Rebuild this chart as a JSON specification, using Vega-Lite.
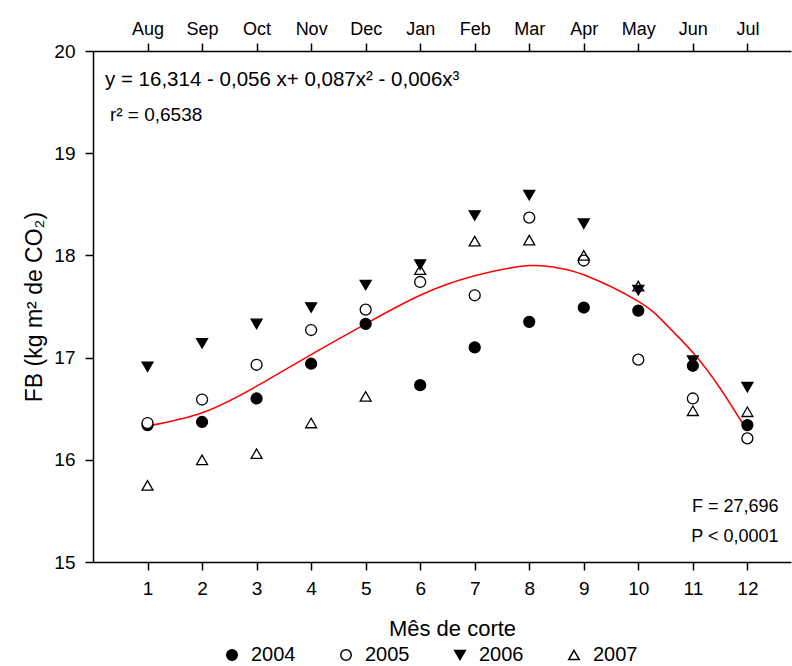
{
  "$schema": "https://vega.github.io/schema/vega-lite/v6.json",
  "width": 698,
  "height": 511,
  "autosize": {"type": "none"},
  "padding": {"left": 93, "top": 51, "right": 1, "bottom": 104},
  "config": {
    "view": {"stroke": null},
    "font": "Liberation Sans",
    "axis": {
      "grid": false,
      "domainColor": "black",
      "tickColor": "black",
      "labelColor": "black",
      "titleColor": "black",
      "domainWidth": 1.5,
      "tickWidth": 1.5,
      "tickSize": 8,
      "labelFont": "Liberation Sans",
      "titleFont": "Liberation Sans",
      "titleFontWeight": "normal"
    },
    "axisY": {"tickCount": 5, "labelFontSize": 19, "labelPadding": 10, "titleFontSize": 23, "titlePadding": 7},
    "legend": {"labelFont": "Liberation Sans"}
  },
  "datasets": {
    "pts": [
      {"mes": 1, "ano": "2004", "fb": 16.34}, {"mes": 2, "ano": "2004", "fb": 16.37}, {"mes": 3, "ano": "2004", "fb": 16.60}, {"mes": 4, "ano": "2004", "fb": 16.94}, {"mes": 5, "ano": "2004", "fb": 17.33}, {"mes": 6, "ano": "2004", "fb": 16.73}, {"mes": 7, "ano": "2004", "fb": 17.10}, {"mes": 8, "ano": "2004", "fb": 17.35}, {"mes": 9, "ano": "2004", "fb": 17.49}, {"mes": 10, "ano": "2004", "fb": 17.46}, {"mes": 11, "ano": "2004", "fb": 16.92}, {"mes": 12, "ano": "2004", "fb": 16.34},
      {"mes": 1, "ano": "2005", "fb": 16.36}, {"mes": 2, "ano": "2005", "fb": 16.59}, {"mes": 3, "ano": "2005", "fb": 16.93}, {"mes": 4, "ano": "2005", "fb": 17.27}, {"mes": 5, "ano": "2005", "fb": 17.47}, {"mes": 6, "ano": "2005", "fb": 17.74}, {"mes": 7, "ano": "2005", "fb": 17.61}, {"mes": 8, "ano": "2005", "fb": 18.37}, {"mes": 9, "ano": "2005", "fb": 17.95}, {"mes": 10, "ano": "2005", "fb": 16.98}, {"mes": 11, "ano": "2005", "fb": 16.60}, {"mes": 12, "ano": "2005", "fb": 16.21},
      {"mes": 1, "ano": "2006", "fb": 16.91}, {"mes": 2, "ano": "2006", "fb": 17.14}, {"mes": 3, "ano": "2006", "fb": 17.33}, {"mes": 4, "ano": "2006", "fb": 17.49}, {"mes": 5, "ano": "2006", "fb": 17.71}, {"mes": 6, "ano": "2006", "fb": 17.91}, {"mes": 7, "ano": "2006", "fb": 18.39}, {"mes": 8, "ano": "2006", "fb": 18.59}, {"mes": 9, "ano": "2006", "fb": 18.31}, {"mes": 10, "ano": "2006", "fb": 17.66}, {"mes": 11, "ano": "2006", "fb": 16.97}, {"mes": 12, "ano": "2006", "fb": 16.71},
      {"mes": 1, "ano": "2007", "fb": 15.75}, {"mes": 2, "ano": "2007", "fb": 16.00}, {"mes": 3, "ano": "2007", "fb": 16.06}, {"mes": 4, "ano": "2007", "fb": 16.36}, {"mes": 5, "ano": "2007", "fb": 16.62}, {"mes": 6, "ano": "2007", "fb": 17.86}, {"mes": 7, "ano": "2007", "fb": 18.14}, {"mes": 8, "ano": "2007", "fb": 18.15}, {"mes": 9, "ano": "2007", "fb": 18.00}, {"mes": 10, "ano": "2007", "fb": 17.70}, {"mes": 11, "ano": "2007", "fb": 16.48}, {"mes": 12, "ano": "2007", "fb": 16.47}
    ],
    "fit": [
      {"mes": 1, "fb": 16.33}, {"mes": 2, "fb": 16.46}, {"mes": 3, "fb": 16.72}, {"mes": 4, "fb": 17.03},
      {"mes": 5, "fb": 17.33}, {"mes": 6, "fb": 17.61}, {"mes": 7, "fb": 17.80},
      {"mes": 8, "fb": 17.90}, {"mes": 8.5, "fb": 17.88}, {"mes": 9, "fb": 17.81}, {"mes": 10, "fb": 17.55},
      {"mes": 10.5, "fb": 17.33}, {"mes": 11, "fb": 17.05}, {"mes": 11.5, "fb": 16.70}, {"mes": 12, "fb": 16.28}
    ],
    "one": [{}]
  },
  "layer": [
    {
      "data": {"name": "fit"},
      "mark": {"type": "line", "color": "#ff0000", "strokeWidth": 1.5, "interpolate": "natural"},
      "encoding": {
        "x": {
          "field": "mes", "type": "quantitative",
          "scale": {"domain": [0, 12.8], "nice": false, "zero": false},
          "axis": {"orient": "bottom", "values": [1, 2, 3, 4, 5, 6, 7, 8, 9, 10, 11, 12], "title": "Mês de corte", "labelFontSize": 19, "labelPadding": 9, "titleFontSize": 22, "titlePadding": 20, "titleX": 359}
        },
        "y": {
          "field": "fb", "type": "quantitative",
          "scale": {"domain": [15, 20], "nice": false, "zero": false},
          "axis": {"title": "FB (kg m² de CO₂)"}
        }
      }
    },
    {
      "data": {"name": "pts"},
      "mark": {"type": "point", "filled": true, "stroke": "black", "strokeWidth": 1.3, "opacity": 1, "size": 120},
      "encoding": {
        "x": {
          "field": "mes", "type": "quantitative",
          "axis": {"orient": "top", "values": [1, 2, 3, 4, 5, 6, 7, 8, 9, 10, 11, 12], "title": null, "labelFontSize": 18, "labelPadding": 5,
            "labelExpr": "['','Aug','Sep','Oct','Nov','Dec','Jan','Feb','Mar','Apr','May','Jun','Jul'][datum.value]"}
        },
        "y": {"field": "fb", "type": "quantitative", "axis": {"title": "FB (kg m² de CO₂)"}},
        "shape": {
          "field": "ano", "type": "nominal",
          "scale": {"domain": ["2004", "2005", "2006", "2007"], "range": ["circle", "circle", "triangle-down", "triangle-up"]},
          "legend": {"title": null, "orient": "none", "legendX": 129, "legendY": 594, "direction": "horizontal", "columns": 4, "columnPadding": 40, "labelFontSize": 20, "labelOffset": 9, "symbolSize": 110, "labelColor": "black",
            "encode": {"symbols": {"update": {"stroke": {"value": "black"}, "strokeWidth": {"value": 1.3}}}}}
        },
        "fill": {
          "field": "ano", "type": "nominal",
          "scale": {"domain": ["2004", "2005", "2006", "2007"], "range": ["black", "white", "black", "transparent"]},
          "legend": {"title": null, "orient": "none", "legendX": 129, "legendY": 594, "direction": "horizontal", "columns": 4, "columnPadding": 40, "labelFontSize": 20, "labelOffset": 9, "symbolSize": 110, "labelColor": "black",
            "encode": {"symbols": {"update": {"stroke": {"value": "black"}, "strokeWidth": {"value": 1.3}}}}}
        }
      }
    },
    {
      "data": {"name": "one"},
      "mark": {"type": "text", "align": "left", "baseline": "middle", "fontSize": 20.5, "color": "black"},
      "encoding": {
        "x": {"datum": 0.22, "type": "quantitative", "axis": null},
        "y": {"datum": 19.72, "type": "quantitative", "axis": {"title": "FB (kg m² de CO₂)"}},
        "text": {"value": "y = 16,314 - 0,056 x+ 0,087x² - 0,006x³"}
      }
    },
    {
      "data": {"name": "one"},
      "mark": {"type": "text", "align": "left", "baseline": "middle", "fontSize": 19, "color": "black"},
      "encoding": {
        "x": {"datum": 0.31, "type": "quantitative", "axis": null},
        "y": {"datum": 19.37, "type": "quantitative", "axis": {"title": "FB (kg m² de CO₂)"}},
        "text": {"value": "r² = 0,6538"}
      }
    },
    {
      "data": {"name": "one"},
      "mark": {"type": "text", "align": "right", "baseline": "middle", "fontSize": 18, "color": "black"},
      "encoding": {
        "x": {"datum": 12.57, "type": "quantitative", "axis": null},
        "y": {"datum": 15.54, "type": "quantitative", "axis": {"title": "FB (kg m² de CO₂)"}},
        "text": {"value": "F = 27,696"}
      }
    },
    {
      "data": {"name": "one"},
      "mark": {"type": "text", "align": "right", "baseline": "middle", "fontSize": 18, "color": "black"},
      "encoding": {
        "x": {"datum": 12.57, "type": "quantitative", "axis": null},
        "y": {"datum": 15.245, "type": "quantitative", "axis": {"title": "FB (kg m² de CO₂)"}},
        "text": {"value": "P < 0,0001"}
      }
    }
  ],
  "resolve": {"axis": {"x": "independent"}}
}
